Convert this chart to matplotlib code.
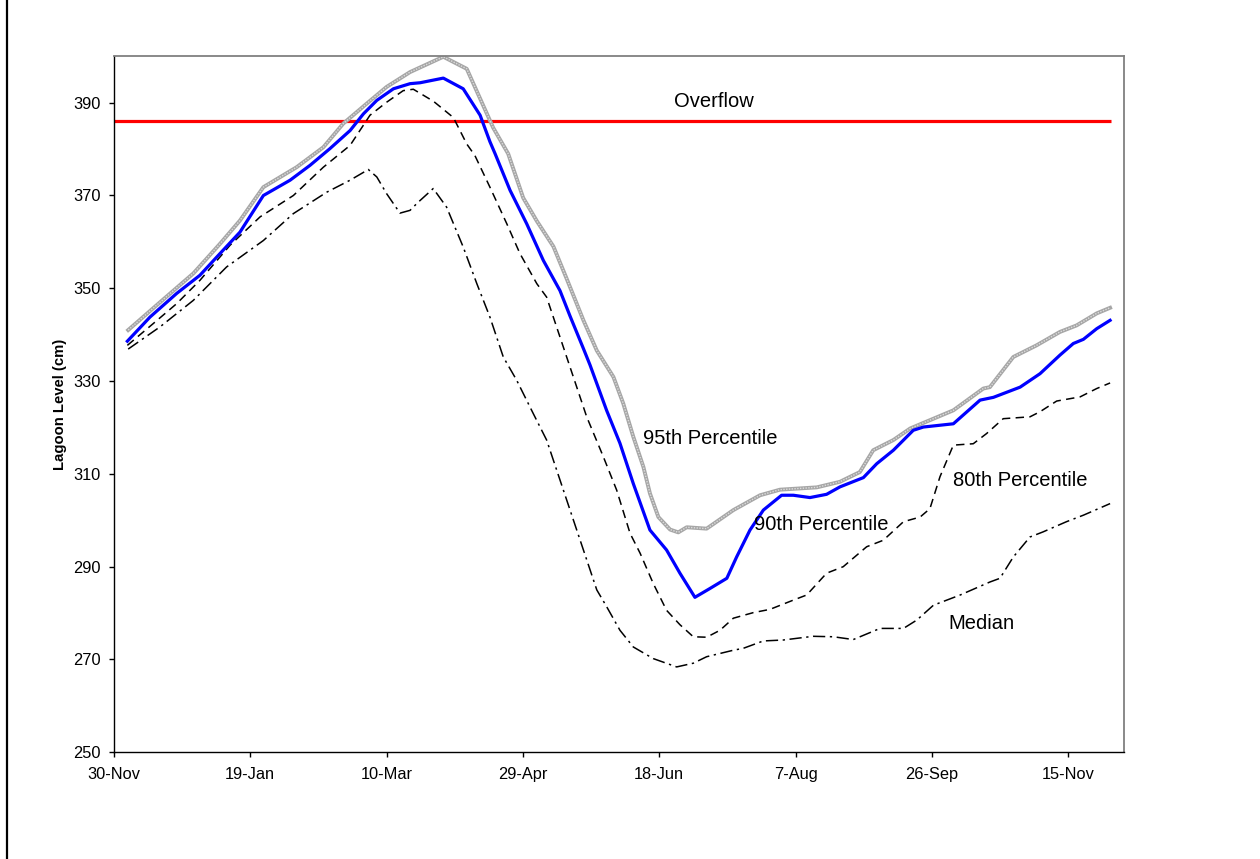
import matplotlib
matplotlib.use("Agg")
import matplotlib.pyplot as plt
from matplotlib.lines import Line2D

plt.rcParams['font.family'] = ['Liberation Sans', 'DejaVu Sans']

# days after 30-Nov and lagoon level (cm)
tick_days = [0, 50, 100, 150, 200, 250, 300, 350]
tick_labels = ["30-Nov", "19-Jan", "10-Mar", "29-Apr", "18-Jun", "7-Aug", "26-Sep", "15-Nov"]

overflow_level = 386
overflow_days = [0, 365.7]

p95_days = [5.2, 16.9, 29.1, 38.9, 46.2, 54.8, 67, 76.8, 84.1, 92.7, 100, 108.6, 120.8, 129.4,
            139.1, 144.6, 150.1, 155.1, 161.2, 166.1, 172.2, 177.1, 183.2, 186.8, 190.5, 194.2, 196.6,
            199.7, 204.0, 207.0, 210.1, 217.4,
            227.2, 237, 244.3, 257.8, 266.3, 273.6, 278.5, 285.9, 292.1, 307.9, 318.9, 321.3,
            329.9, 338.4, 347, 353.1, 360.5, 365.4]
p95_level = [341.0, 347.0, 353.2, 359.6, 364.6, 371.8, 376.1, 380.4, 385.5, 389.8, 393.4, 396.6, 399.9, 397.3,
             384.6, 379.0, 369.5, 364.5, 359.0, 352.0, 343.1, 336.6, 330.9, 325.2, 318.0, 311.5, 305.8,
             300.7, 298.0, 297.4, 298.5, 298.2,
             302.2, 305.4, 306.6, 307.1, 308.3, 310.4, 315.1, 317.3, 319.8, 323.7, 328.4, 328.7,
             335.2, 337.7, 340.6, 342.0, 344.6, 345.8]

p90_days = [4.9, 13.2, 23, 31.5, 38.9, 46.2, 54.8, 64.6, 71.9, 79.2, 86.6, 91.5, 96.4, 102.5, 108.6,
            112.3, 120.8, 128.1, 134.3, 137.9, 139.8, 145.3, 151.4, 157.5, 163.6, 167.3, 172.2, 174.6,
            180.7, 185.6, 190.5, 196.6, 202.7, 207.6, 213.1, 218.6, 224.8, 228.4, 233.3, 238.2, 244.9,
            249.2, 255.3, 261.4, 266.3, 274.9, 279.8, 285.9, 293.2, 296.9, 307.9, 317.7, 322.6, 332.4,
            339.7, 347.0, 351.9, 355.6, 360.5, 365.4]
p90_level = [338.6, 343.8, 348.9, 352.8, 357.5, 362.1, 370.0, 373.3, 376.5, 380.1, 384.0, 387.6, 390.5, 393.0, 394.1,
             394.3, 395.3, 393.0, 387.3, 381.6, 379.0, 371.1, 363.9, 356.0, 349.5, 344.0, 337.0, 333.5,
             323.7, 316.6, 307.9, 297.9, 293.6, 288.6, 283.4, 285.3, 287.5, 292.1, 297.9, 302.2, 305.4,
             305.4, 304.9, 305.6, 307.2, 309.2, 312.2, 315.1, 319.4, 320.1, 320.8, 325.9, 326.5, 328.7,
             331.6, 335.6, 338.1, 339.0, 341.3, 343.1]

p80_days = [4.9, 14.4, 23, 31.5, 42.6, 53.6, 65.8, 76.8, 86.6, 93.9, 100, 106.1, 109.8, 117.2, 124.5,
            129.4, 132.4, 137.9, 144.1, 148.9, 155.1, 158.7, 163.6, 168.5, 173.4, 179.5, 184.4, 189.3,
            193.0, 197.8, 202.7, 207.6, 212.5, 217.4, 222.3, 227.2, 234.5, 240.6, 249.2, 254.1, 261.4,
            267.5, 276.1, 282.2, 289.6, 295.7, 299.3, 303, 307.9, 315.2, 320.1, 326.2, 336, 339.7,
            345.8, 354.4, 360.5, 365.4]
p80_level = [337.7, 342.4, 346.7, 351.7, 359.3, 365.4, 370.0, 376.1, 380.8, 387.3, 390.1, 392.6, 392.9, 390.3, 386.8,
             381.1, 378.6, 371.8, 363.9, 357.5, 351.0, 348.1, 339.5, 330.9, 322.3, 313.7, 306.5, 297.2,
             292.9, 286.4, 280.6, 277.5, 274.9, 274.8, 276.3, 278.9, 280.1, 280.8, 282.8, 283.9, 288.6,
             290.0, 294.3, 295.7, 299.7, 300.7, 302.5, 309.4, 316.2, 316.5, 318.7, 321.9, 322.3, 323.4,
             325.7, 326.6, 328.4, 329.6]

median_days = [5.2, 16.9, 29.1, 41.3, 54.8, 65.8, 78, 86.6, 93.3, 96.4, 100, 104.9, 108.6, 111.3, 117.1,
               122.0, 128.1, 133.1, 137.9, 142.8, 147.7, 153.8, 158.7, 162.4, 167.3, 172.2, 177.1, 180.7,
               185.6, 190.5, 197.8, 206.4, 212.5, 217.4, 227.2, 230.8, 238.2, 245.5, 256.5, 263.9, 271.2,
               281, 289.6, 294.5, 300.6, 310.4, 321.3, 325, 329.9, 336, 340.8, 349.4, 355.6, 365.4]
median_level = [336.9, 341.7, 347.4, 354.6, 360.3, 366.1, 370.7, 373.3, 375.6, 374.0, 370.4, 366.2, 366.8, 368.4, 371.5,
                367.5, 358.9, 351.0, 343.8, 335.2, 330.2, 323.0, 317.3, 310.8, 302.2, 293.6, 285.0, 281.4,
                276.3, 272.7, 270.2, 268.4, 269.2, 270.6, 272.0, 272.4, 274.0, 274.2, 275.0, 274.9, 274.3,
                276.7, 276.7, 278.5, 281.7, 283.9, 286.7, 287.5, 292.1, 296.4, 297.5, 299.7, 301.1, 303.6]

fig = plt.figure(figsize=(12.6, 8.59), dpi=100)
ax = fig.add_axes([114 / 1260, 1 - 752.3 / 859, 1010 / 1260, 696 / 859])

# overflow line
ax.plot(overflow_days, [overflow_level, overflow_level], color='#ff0000', lw=2.3, solid_capstyle='butt')

# percentile curves
ax.plot(median_days, median_level, color='black', lw=1.1, dashes=(8, 3, 1.5, 3))
ax.plot(p80_days, p80_level, color='black', lw=1.1, dashes=(5.5, 3.5))
ax.plot(p95_days, p95_level, color='#a6a6a6', lw=2.8)
ax.plot(p95_days, p95_level, color='#dcdcdc', lw=1.0, dashes=(1, 1))
ax.plot(p90_days, p90_level, color='#0000ff', lw=2.3)

# labels on the curves
ax.text(220, 390.3, "Overflow", fontsize=14.5, ha='center', va='center')
ax.text(194.1, 317.7, "95th Percentile", fontsize=14.5, ha='left', va='center')
ax.text(234.8, 299.1, "90th Percentile", fontsize=14.5, ha='left', va='center')
ax.text(307.9, 308.6, "80th Percentile", fontsize=14.5, ha='left', va='center')
ax.text(306.0, 277.8, "Median", fontsize=14.5, ha='left', va='center')

ax.set_xlim(0, 370.5)
ax.set_ylim(250, 400)
ax.set_xticks(tick_days)
ax.set_xticklabels(tick_labels)
ax.set_yticks(range(250, 400, 20))
ax.tick_params(axis='both', direction='out', length=3.6, width=1, labelsize=11.8)
ax.tick_params(axis='x', pad=7)
ax.tick_params(axis='y', pad=6)

ax.set_ylabel("Lagoon Level (cm)", fontsize=10.7, fontweight='bold')
ax.yaxis.set_label_coords(-0.047, 0.5)

for side in ['left', 'bottom']:
    ax.spines[side].set_color('black')
    ax.spines[side].set_linewidth(1.0)
for side in ['top', 'right']:
    ax.spines[side].set_color('#808080')
    ax.spines[side].set_linewidth(1.3)

# frame line at the left edge of the picture
fig.add_artist(Line2D([7 / 1260, 7 / 1260], [0, 1], color='black', lw=1.6, transform=fig.transFigure))

fig.savefig("out.png", dpi=100)
